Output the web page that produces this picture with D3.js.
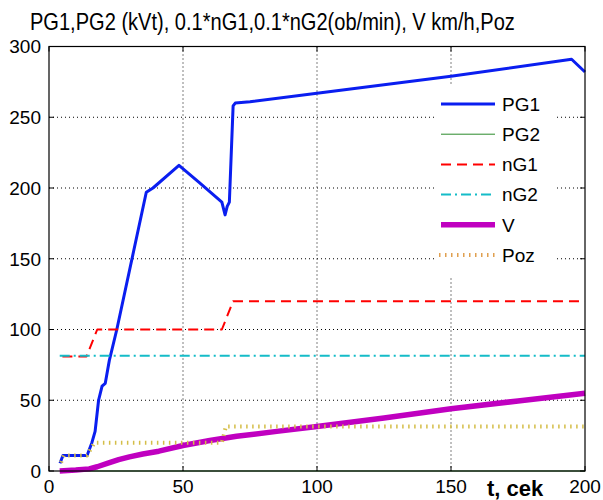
<!DOCTYPE html>
<html>
<head>
<meta charset="utf-8">
<script src="https://cdn.jsdelivr.net/npm/d3@7"></script>
<style>
  body { margin: 0; background: #fff; }
  svg text { font-family: 'Liberation Sans', Arial, sans-serif; fill: #000; }
</style>
</head>
<body>
<div id="chart"></div>
<script>
// series data
const tPG1 = [4.1, 5.2, 14.2, 16, 17.2, 18.5, 19.8, 21, 22.5, 25.3, 36.3, 38.8, 48.5, 56, 64.5, 65.7, 66.5, 67.3, 68.7, 69.5, 75, 100, 150, 195, 200];
const vPG1 = [5.5, 11, 11, 20, 28, 50, 60, 62, 78, 100, 197, 200, 216, 204, 190, 181, 187, 190, 258, 260, 261, 267, 279, 291, 282];

const tPG2 = [5, 200];
const vPG2 = [0, 0];

const tNG1 = [5, 14, 18, 64.5, 68.7, 200];
const vNG1 = [81, 81, 100, 100, 120, 120];

const tNG2 = [4, 200];
const vNG2 = [81.5, 81.5];

const tV = [4, 10, 15, 18, 22, 26, 30, 35, 41, 50, 60, 70, 85, 100, 125, 150, 175, 200];
const vV = [0, 0.7, 1.5, 3, 5.5, 8, 10, 12, 14, 18, 21.5, 24.5, 28, 31.5, 37.5, 44, 49.5, 55];

const tPoz = [4.5, 5.5, 14.2, 17, 64.5, 66, 200];
const vPoz = [6, 11, 11, 20, 20, 31.5, 31.5];

const xTicks = [0, 50, 100, 150, 200];
const yTicks = [0, 50, 100, 150, 200, 250, 300];

const titleText = 'PG1,PG2 (kVt), 0.1*nG1,0.1*nG2(ob/min), V km/h,Poz';
const xLabel = 't, cek';

const series = [
  { name: 'PG1', t: tPG1, v: vPG1, color: '#0a1ef0', width: 3, dash: null },
  { name: 'PG2', t: tPG2, v: vPG2, color: '#2a8a2a', width: 1, dash: null },
  { name: 'nG1', t: tNG1, v: vNG1, color: '#ff0000', width: 2, dash: '10,6' },
  { name: 'nG2', t: tNG2, v: vNG2, color: '#14bcc8', width: 2, dash: '10,4,2,4' },
  { name: 'V', t: tV, v: vV, color: '#c000c0', width: 5.5, dash: null },
  { name: 'Poz', t: tPoz, v: vPoz, color: '#d4be48', width: 4, dash: '1.5,4.5' },
];

const W = 603, H = 500;
const m = { left: 49, right: 585, top: 46.5, bottom: 471 };

const svg = d3
  .select('#chart')
  .append('svg')
  .attr('width', W)
  .attr('height', H);

const x = d3.scaleLinear().domain([0, 200]).range([m.left, m.right]);
const y = d3.scaleLinear().domain([0, 300]).range([m.bottom, m.top]);

// grid
const grid = svg.append('g').attr('class', 'grid');
grid
  .selectAll('line.gx')
  .data(xTicks.slice(1, -1))
  .enter()
  .append('line')
  .attr('x1', (d) => x(d))
  .attr('x2', (d) => x(d))
  .attr('y1', m.top)
  .attr('y2', m.bottom)
  .attr('stroke', '#000')
  .attr('stroke-dasharray', '1,3');
grid
  .selectAll('line.gy')
  .data(yTicks.slice(1, -1))
  .enter()
  .append('line')
  .attr('x1', m.left)
  .attr('x2', m.right)
  .attr('y1', (d) => y(d))
  .attr('y2', (d) => y(d))
  .attr('stroke', '#000')
  .attr('stroke-dasharray', '1,3');

// lines
const line = d3
  .line()
  .x((d) => x(d[0]))
  .y((d) => y(d[1]));

svg
  .append('g')
  .selectAll('path')
  .data(series)
  .enter()
  .append('path')
  .attr('d', (s) => line(d3.zip(s.t, s.v)))
  .attr('fill', 'none')
  .attr('stroke', (s) => s.color)
  .attr('stroke-width', (s) => s.width)
  .attr('stroke-dasharray', (s) => s.dash)
  .attr('stroke-linejoin', 'round');

// legend
const leg = svg.append('g').attr('class', 'legend');
leg
  .append('rect')
  .attr('x', 434)
  .attr('y', 86)
  .attr('width', 120)
  .attr('height', 192)
  .attr('fill', '#fff');

const legItem = leg
  .selectAll('g.item')
  .data(series)
  .enter()
  .append('g')
  .attr('transform', (_, i) => `translate(0,${104 + i * 30.2})`);

legItem
  .append('line')
  .attr('x1', (s) => (s.name === 'Poz' ? 439 : 441))
  .attr('x2', 495)
  .attr('stroke', (s) => (s.name === 'Poz' ? '#e0a050' : s.color))
  .attr('stroke-width', (s) => s.width)
  .attr('stroke-dasharray', (s) => s.dash);

legItem
  .append('text')
  .attr('x', 502)
  .attr('dy', '0.36em')
  .style('font-size', '19px')
  .text((s) => s.name);

// axes box with inward ticks
const axes = svg.append('g').attr('class', 'axes');
axes
  .append('rect')
  .attr('x', m.left)
  .attr('y', m.top)
  .attr('width', m.right - m.left)
  .attr('height', m.bottom - m.top)
  .attr('fill', 'none')
  .attr('stroke', '#000')
  .attr('stroke-width', 1.2);

const tk = 5;
xTicks.forEach((d) => {
  axes.append('line').attr('x1', x(d)).attr('x2', x(d)).attr('y1', m.bottom).attr('y2', m.bottom - tk).attr('stroke', '#000');
  axes.append('line').attr('x1', x(d)).attr('x2', x(d)).attr('y1', m.top).attr('y2', m.top + tk).attr('stroke', '#000');
});
yTicks.forEach((d) => {
  axes.append('line').attr('x1', m.left).attr('x2', m.left + tk).attr('y1', y(d)).attr('y2', y(d)).attr('stroke', '#000');
  axes.append('line').attr('x1', m.right).attr('x2', m.right - tk).attr('y1', y(d)).attr('y2', y(d)).attr('stroke', '#000');
});

axes
  .selectAll('text.xt')
  .data(xTicks)
  .enter()
  .append('text')
  .attr('x', (d) => x(d))
  .attr('y', 493)
  .attr('text-anchor', 'middle')
  .style('font-size', '19px')
  .text((d) => d);

axes
  .selectAll('text.yt')
  .data(yTicks)
  .enter()
  .append('text')
  .attr('x', 41)
  .attr('y', (d) => y(d))
  .attr('dy', '0.36em')
  .attr('text-anchor', 'end')
  .style('font-size', '19px')
  .text((d) => d);

svg
  .append('text')
  .attr('x', 487)
  .attr('y', 496)
  .style('font-size', '22px')
  .style('font-weight', 'bold')
  .text(xLabel);

// title is squeezed horizontally like in the original figure
const title = svg
  .append('text')
  .style('font-size', '24px')
  .text(titleText);
const tw = title.node().getComputedTextLength();
title.attr('transform', `translate(30,30) scale(${485 / tw},1)`);
</script>
</body>
</html>
